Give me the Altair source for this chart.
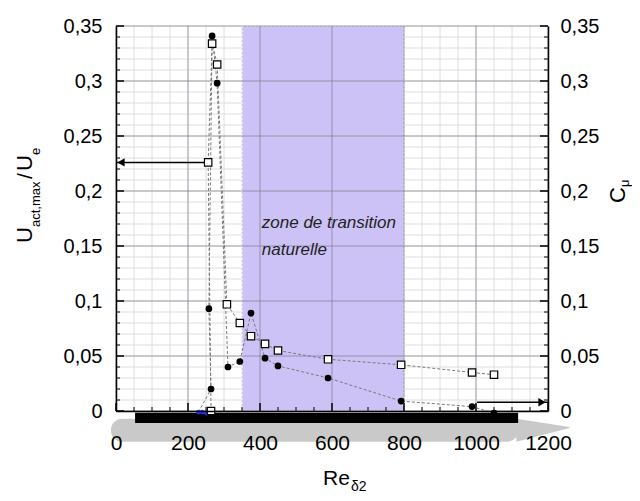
import altair as alt
import pandas as pd
import numpy as np

# ---------------- data ----------------
# open squares : U_act,max / U_e  (left axis)
sq_re = [264, 256, 267, 281, 308, 344, 375, 414, 450, 589, 792, 989, 1050]
sq_val = [0.0, 0.226, 0.334, 0.315, 0.097, 0.080, 0.068, 0.061, 0.055, 0.047, 0.042, 0.035, 0.033]
# filled circles : C_mu (right axis)
ci_re = [264, 258, 267, 281, 311, 344, 375, 414, 450, 589, 792, 989, 1050]
ci_val = [0.020, 0.093, 0.341, 0.298, 0.040, 0.045, 0.089, 0.048, 0.041, 0.030, 0.009, 0.004, -0.002]
# small blue markers at the foot of the curves
blue_re = [229, 240, 252]
blue_val = [-0.001, -0.001, -0.002]

zone = {"start": 350, "end": 800}              # zone de transition naturelle
x_major = [0, 200, 400, 600, 800, 1000, 1200]
y_major = [0, 0.05, 0.1, 0.15, 0.2, 0.25, 0.3, 0.35]

# arrows (from series to their axis)
arrow_left = {"x": [0, 256], "y": [0.226, 0.226]}
arrow_right = {"x": [1003, 1200], "y": [0.008, 0.008]}

# schematic plate under the axis (Re / value units)
plate_body = {"x0": -14, "x1": 1117, "y0": -0.007, "y1": -0.028}
plate_bar = {"x0": 53, "x1": 1117, "y0": -0.0015, "y1": -0.011}
plate_tail = {"x": [1112, 1260], "top": [-0.007, -0.0145], "bot": [-0.028, -0.0155]}

W, H = 432, 385
FONT = "Liberation Sans"

xs = alt.Scale(domain=[0, 1200], nice=False, zero=False)
ys = alt.Scale(domain=[0, 0.35], nice=False, zero=False)

x_minor = pd.DataFrame({"v": np.arange(0, 1201, 50)})
y_minor = pd.DataFrame({"v": np.round(np.arange(0, 0.3501, 0.01), 3)})
x_maj_df = pd.DataFrame({"v": x_major})
y_maj_df = pd.DataFrame({"v": y_major})

label_expr = "replace(format(datum.value, '~g'), '.', ',')"

# ---------------- grid ----------------
minor_v = alt.Chart(x_minor).mark_rule(color="#dedede", strokeWidth=1).encode(
    x=alt.X("v:Q", scale=xs, axis=None))
minor_h = alt.Chart(y_minor).mark_rule(color="#dedede", strokeWidth=1).encode(
    y=alt.Y("v:Q", scale=ys, axis=None))

zone_df = pd.DataFrame({"x0": [zone["start"]], "x1": [zone["end"]], "y0": [0.0], "y1": [0.35]})
zone_rect = alt.Chart(zone_df).mark_rect(color="#cdc2f6", stroke="white", strokeDash=[2, 2],
                                         strokeWidth=1).encode(
    x=alt.X("x0:Q", scale=xs, axis=None), x2="x1:Q",
    y=alt.Y("y0:Q", scale=ys, axis=None), y2="y1:Q")

major_v = alt.Chart(x_maj_df).mark_rule(color="#6f6f7f", opacity=0.6, strokeWidth=1).encode(
    x=alt.X("v:Q", scale=xs, axis=alt.Axis(
        orient="bottom", values=x_major, format="d", ticks=False, grid=False,
        labelFlush=False, labelOverlap=False,
        domainColor="black", domainWidth=1.5, labelFont=FONT, labelFontSize=21,
        labelColor="black", labelPadding=21, title=None, zindex=1)))
major_h = alt.Chart(y_maj_df).mark_rule(color="#6f6f7f", opacity=0.6, strokeWidth=1).encode(
    y=alt.Y("v:Q", scale=ys, axis=alt.Axis(
        orient="left", values=y_major, labelExpr=label_expr, ticks=False, grid=False,
        labelFlush=False, labelOverlap=False,
        domainColor="black", domainWidth=1.5, labelFont=FONT, labelFontSize=20,
        labelColor="black", labelPadding=14, title=None, zindex=1)))
right_axis = alt.Chart(y_maj_df).mark_rule(opacity=0).encode(
    y=alt.Y("v:Q", scale=ys, axis=alt.Axis(
        orient="right", values=y_major, labelExpr=label_expr, ticks=False, grid=False,
        labelFlush=False, labelOverlap=False,
        domainColor="black", domainWidth=1.5, labelFont=FONT, labelFontSize=20,
        labelColor="black", labelPadding=12, title=None, zindex=1)))

# ---------------- plate drawing ----------------
body = alt.Chart(pd.DataFrame([plate_body])).mark_rect(color="#c9c9c9", cornerRadius=11).encode(
    x=alt.X("x0:Q", scale=xs, axis=None), x2="x1:Q",
    y=alt.Y("y0:Q", scale=ys, axis=None), y2="y1:Q")
tail = alt.Chart(pd.DataFrame(plate_tail)).mark_area(color="#c9c9c9").encode(
    x=alt.X("x:Q", scale=xs, axis=None),
    y=alt.Y("top:Q", scale=ys, axis=None), y2="bot:Q")
bar = alt.Chart(pd.DataFrame([plate_bar])).mark_rect(color="black").encode(
    x=alt.X("x0:Q", scale=xs, axis=None), x2="x1:Q",
    y=alt.Y("y0:Q", scale=ys, axis=None), y2="y1:Q")

# ---------------- inward ticks ----------------
xt_min = x_minor[x_minor.v % 200 != 0]
tick_x_minor = alt.Chart(xt_min).mark_rule(color="black").encode(
    x=alt.X("v:Q", scale=xs, axis=None), y=alt.value(H), y2=alt.value(H - 4))
tick_x_major = alt.Chart(x_maj_df).mark_rule(color="black", strokeWidth=1.5).encode(
    x=alt.X("v:Q", scale=xs, axis=None), y=alt.value(H), y2=alt.value(H - 8))
yt_min = y_minor[~np.isclose((y_minor.v * 100) % 5, 0) & ~np.isclose((y_minor.v * 100) % 5, 5)]
tick_l_minor = alt.Chart(yt_min).mark_rule(color="black").encode(
    y=alt.Y("v:Q", scale=ys, axis=None), x=alt.value(0), x2=alt.value(4))
tick_l_major = alt.Chart(y_maj_df).mark_rule(color="black", strokeWidth=1.5).encode(
    y=alt.Y("v:Q", scale=ys, axis=None), x=alt.value(0), x2=alt.value(8))
tick_r_minor = alt.Chart(yt_min).mark_rule(color="black").encode(
    y=alt.Y("v:Q", scale=ys, axis=None), x=alt.value(W), x2=alt.value(W - 4))
tick_r_major = alt.Chart(y_maj_df).mark_rule(color="black", strokeWidth=1.5).encode(
    y=alt.Y("v:Q", scale=ys, axis=None), x=alt.value(W), x2=alt.value(W - 8))

# ---------------- series ----------------
sq_df = pd.DataFrame({"x": sq_re, "y": sq_val, "i": range(len(sq_re))})
ci_line_df = pd.DataFrame({"x": [blue_re[0]] + ci_re, "y": [blue_val[0]] + ci_val,
                           "i": range(len(ci_re) + 1)})
ci_df = pd.DataFrame({"x": ci_re, "y": ci_val})
blue_df = pd.DataFrame({"x": blue_re, "y": blue_val})

line_sq = alt.Chart(sq_df).mark_line(color="#7a7a7a", strokeDash=[3, 2], strokeWidth=1).encode(
    x=alt.X("x:Q", scale=xs, axis=None), y=alt.Y("y:Q", scale=ys, axis=None), order="i:Q")
line_ci = alt.Chart(ci_line_df).mark_line(color="#7a7a7a", strokeDash=[3, 2], strokeWidth=1).encode(
    x=alt.X("x:Q", scale=xs, axis=None), y=alt.Y("y:Q", scale=ys, axis=None), order="i:Q")

al_df = pd.DataFrame(arrow_left)
ar_df = pd.DataFrame(arrow_right)
arr_l = alt.Chart(al_df).mark_line(color="black", strokeWidth=1.5).encode(
    x=alt.X("x:Q", scale=xs, axis=None), y=alt.Y("y:Q", scale=ys, axis=None))
arr_r = alt.Chart(ar_df).mark_line(color="black", strokeWidth=1.5).encode(
    x=alt.X("x:Q", scale=xs, axis=None), y=alt.Y("y:Q", scale=ys, axis=None))
head_l = alt.Chart(al_df.head(1)).mark_point(shape="triangle-left", filled=True, color="black",
                                             size=70, opacity=1, xOffset=5).encode(
    x=alt.X("x:Q", scale=xs, axis=None), y=alt.Y("y:Q", scale=ys, axis=None))
head_r = alt.Chart(ar_df.tail(1)).mark_point(shape="triangle-right", filled=True, color="black",
                                             size=70, opacity=1, xOffset=-6).encode(
    x=alt.X("x:Q", scale=xs, axis=None), y=alt.Y("y:Q", scale=ys, axis=None))

pts_ci = alt.Chart(ci_df).mark_point(shape="circle", filled=True, color="black", size=45,
                                     opacity=1).encode(
    x=alt.X("x:Q", scale=xs, axis=None), y=alt.Y("y:Q", scale=ys, axis=None))
pts_sq = alt.Chart(sq_df).mark_point(shape="square", filled=True, fill="white", stroke="black",
                                     strokeWidth=1.2, size=55, opacity=1).encode(
    x=alt.X("x:Q", scale=xs, axis=None), y=alt.Y("y:Q", scale=ys, axis=None))
pts_blue = alt.Chart(blue_df).mark_point(shape="circle", filled=True, color="#1f35ff", size=22,
                                         opacity=1).encode(
    x=alt.X("x:Q", scale=xs, axis=None), y=alt.Y("y:Q", scale=ys, axis=None))

# ---------------- annotation ----------------
ann_df = pd.DataFrame({"x": [405, 405], "y": [0.171, 0.146],
                       "t": ["zone de transition", "naturelle"]})
ann = alt.Chart(ann_df).mark_text(align="left", baseline="middle", fontStyle="italic",
                                  fontSize=17, font=FONT, color="#222222").encode(
    x=alt.X("x:Q", scale=xs, axis=None), y=alt.Y("y:Q", scale=ys, axis=None), text="t:N")

# ---------------- titles (with subscripts) ----------------
def txt(s, x, y, size, angle=0):
    return alt.Chart(pd.DataFrame({"t": [s]})).mark_text(
        text=s, align="left", baseline="alphabetic", fontSize=size, font=FONT,
        color="black", angle=angle).encode(x=alt.value(x), y=alt.value(y))

titles = [
    txt("U", -84, 217, 22, 270),
    txt("act,max", -76, 201, 13, 270),
    txt("/", -84, 153, 21, 270),
    txt("U", -84, 145, 22, 270),
    txt("e", -76, 129, 13, 270),
    txt("C", 509, 177, 22, 270),
    txt("\u03bc", 513, 161, 13, 270),
    txt("Re", 207, 459, 21),
    txt("\u03b42", 235, 465, 14),
]

chart = alt.layer(
    minor_v, minor_h, zone_rect, major_v, major_h, right_axis,
    body, tail, bar,
    tick_x_minor, tick_x_major, tick_l_minor, tick_l_major, tick_r_minor, tick_r_major,
    line_sq, line_ci, arr_l, arr_r, head_l, head_r,
    pts_blue, pts_ci, pts_sq, ann, *titles
).resolve_scale(x="shared", y="shared").resolve_axis(x="independent", y="independent").properties(
    width=W, height=H,
    autosize=alt.AutoSizeParams(type="none"),
    padding={"left": 108, "top": 18, "right": 84, "bottom": 82},
).configure_view(stroke=None)

chart.save("out.html", embed_options={"renderer": "svg", "actions": False})
